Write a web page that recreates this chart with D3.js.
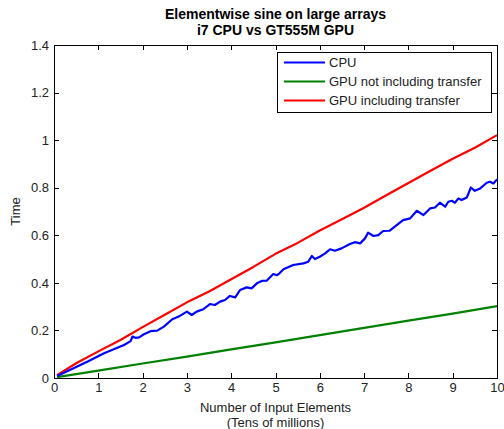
<!DOCTYPE html>
<html><head><meta charset="utf-8">
<script src="https://cdn.jsdelivr.net/npm/d3@7"></script>
<style>body{margin:0;background:#fff}svg{display:block}</style>
</head><body>
<script>
const seriesNames = ["CPU", "GPU not including transfer", "GPU including transfer"];
const seriesColors = ["#0000ff", "#008000", "#ff0000"];
const xTicks = [0,1,2,3,4,5,6,7,8,9,10];
const yTicks = [0,0.2,0.4,0.6,0.8,1,1.2,1.4];

const cpuX = [0.07,0.75,1.13,1.43,1.58,1.73,1.77,1.84,1.92,2.03,2.18,2.33,2.48,2.67,2.84,3.0,3.11,3.22,3.37,3.52,3.63,3.75,3.86,3.97,4.09,4.2,4.35,4.46,4.58,4.69,4.8,4.95,5.03,5.09,5.18,5.4,5.63,5.74,5.82,5.89,6.0,6.12,6.23,6.34,6.49,6.68,6.79,6.91,7.02,7.09,7.21,7.32,7.43,7.57,7.88,8.04,8.19,8.34,8.49,8.6,8.71,8.83,8.9,8.98,9.05,9.13,9.2,9.32,9.41,9.5,9.62,9.77,9.84,9.92,10.0];
const cpuY = [0.008,0.068,0.104,0.127,0.139,0.155,0.174,0.169,0.171,0.184,0.197,0.199,0.216,0.247,0.261,0.279,0.265,0.279,0.289,0.311,0.307,0.321,0.328,0.345,0.339,0.37,0.381,0.377,0.398,0.408,0.409,0.437,0.432,0.44,0.457,0.475,0.482,0.489,0.513,0.5,0.51,0.524,0.541,0.535,0.545,0.563,0.571,0.566,0.587,0.611,0.597,0.601,0.618,0.619,0.664,0.671,0.703,0.685,0.713,0.717,0.737,0.72,0.741,0.745,0.737,0.755,0.748,0.759,0.801,0.787,0.797,0.821,0.825,0.818,0.835];

const gpuX = [0.07,1,2,3,4,5,6,7,8,9,10];
const gpuY = [0.004,0.031,0.061,0.090,0.120,0.150,0.180,0.211,0.241,0.271,0.302];

const gpuTX = [0.07,0.5,1,1.5,2,2.5,3,3.5,4,4.5,5,5.5,6,6.5,7,7.5,8,8.5,9,9.5,10];
const gpuTY = [0.012,0.062,0.112,0.160,0.214,0.266,0.318,0.364,0.415,0.467,0.522,0.568,0.620,0.667,0.716,0.768,0.820,0.871,0.922,0.968,1.021];

const W = 504, H = 429;
const m = {left:54, right:497, top:45, bottom:378};
const svg = d3.select("body").append("svg").attr("width",W).attr("height",H);
const x = d3.scaleLinear().domain([0,10]).range([m.left,m.right]);
const y = d3.scaleLinear().domain([0,1.4]).range([m.bottom,m.top]);
const font = "'Liberation Sans', Arial, sans-serif";
const fs = 13;

// box
svg.append("rect").attr("x",m.left).attr("y",m.top).attr("width",m.right-m.left).attr("height",m.bottom-m.top)
  .attr("fill","#fff").attr("stroke","#000").attr("stroke-width",1).attr("shape-rendering","crispEdges");

function styleAxis(g){
  g.select(".domain").remove();
  g.selectAll("line").attr("stroke","#000").attr("shape-rendering","crispEdges");
  g.selectAll("text").attr("font-family",font).attr("font-size",fs).attr("fill","#222");
}
svg.append("g").attr("transform",`translate(0,${m.bottom})`)
  .call(d3.axisBottom(x).tickValues(xTicks).tickSize(-5).tickPadding(5).tickFormat(d3.format("d")))
  .call(styleAxis);
svg.append("g").attr("transform",`translate(0,${m.top})`)
  .call(d3.axisTop(x).tickValues(xTicks).tickSize(-5).tickFormat(""))
  .call(styleAxis);
svg.append("g").attr("transform",`translate(${m.left},0)`)
  .call(d3.axisLeft(y).tickValues(yTicks).tickSize(-5).tickPadding(5).tickFormat(d=>d3.format("")(+d.toFixed(1))))
  .call(styleAxis);
svg.append("g").attr("transform",`translate(${m.right},0)`)
  .call(d3.axisRight(y).tickValues(yTicks).tickSize(-5).tickFormat(""))
  .call(styleAxis);

const line = d3.line().x(d=>x(d[0])).y(d=>y(d[1]));
const data = [
  d3.zip(cpuX,cpuY),
  d3.zip(gpuX,gpuY),
  d3.zip(gpuTX,gpuTY)
];
[1,2,0].forEach(i=>{
  svg.append("path").datum(data[i]).attr("d",line).attr("fill","none")
    .attr("stroke",seriesColors[i]).attr("stroke-width",2.2).attr("stroke-linejoin","round");
});

// titles
svg.append("text").attr("x",(m.left+m.right)/2).attr("y",19).attr("text-anchor","middle")
  .attr("font-family",font).attr("font-weight","bold").attr("font-size",14).text("Elementwise sine on large arrays");
svg.append("text").attr("x",(m.left+m.right)/2).attr("y",34.5).attr("text-anchor","middle")
  .attr("font-family",font).attr("font-weight","bold").attr("font-size",14).text("i7 CPU vs GT555M GPU");
svg.append("text").attr("x",(m.left+m.right)/2).attr("y",411.5).attr("text-anchor","middle")
  .attr("font-family",font).attr("font-size",fs).attr("fill","#222").text("Number of Input Elements");
svg.append("text").attr("x",(m.left+m.right)/2).attr("y",427).attr("text-anchor","middle")
  .attr("font-family",font).attr("font-size",fs).attr("fill","#222").text("(Tens of millions)");
svg.append("text").attr("transform",`translate(20,${(m.top+m.bottom)/2}) rotate(-90)`).attr("text-anchor","middle")
  .attr("font-family",font).attr("font-size",fs).attr("fill","#222").text("Time");

// legend
const lg = svg.append("g");
lg.append("rect").attr("x",277).attr("y",52).attr("width",214).attr("height",60)
  .attr("fill","#fff").attr("stroke","#000").attr("shape-rendering","crispEdges");
const rows = [62.5,81.5,100.5];
seriesNames.forEach((n,i)=>{
  lg.append("line").attr("x1",284).attr("x2",325).attr("y1",rows[i]).attr("y2",rows[i])
    .attr("stroke",seriesColors[i]).attr("stroke-width",2);
  lg.append("text").attr("x",329).attr("y",rows[i]+4.5).attr("font-family",font).attr("font-size",fs)
    .attr("fill","#222").text(n);
});
</script>
</body></html>
